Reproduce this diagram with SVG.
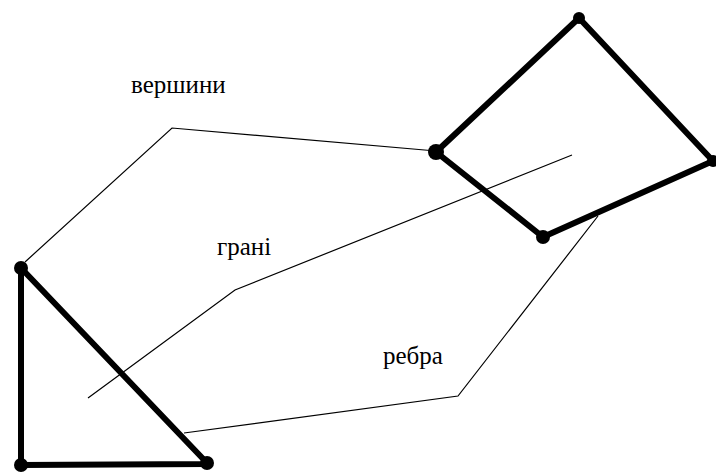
<svg xmlns="http://www.w3.org/2000/svg" width="716" height="472" viewBox="0 0 716 472">
<style>
.edge{fill:none;stroke:#000;stroke-width:6;stroke-linejoin:round}
.lead{fill:none;stroke:#000;stroke-width:1.2}
.lbl{font-family:"Liberation Serif","Times New Roman",serif;font-size:25px;fill:#000}
</style>
<rect width="716" height="472" fill="#fff"/>
<g id="connectors">
<polyline class="lead" points="436,151 172,128 25,262"/>
<polyline class="lead" points="572,155 235,290 88,398"/>
<polyline class="lead" points="598,216 458,396 184,433"/>
</g>
<g id="quad">
<polygon class="edge" points="579,18 713,161 543,237 436,152"/>
<circle cx="579" cy="18" r="6"/>
<circle cx="713" cy="161" r="6"/>
<circle cx="543" cy="237" r="7"/>
<circle cx="436" cy="152" r="8"/>
</g>
<g id="triangle">
<polygon class="edge" points="21,268 21,465 208,464"/>
<circle cx="21" cy="268" r="7"/>
<circle cx="21" cy="465" r="7"/>
<circle cx="207" cy="463" r="7"/>
</g>
<g id="labels">
<text class="lbl" x="131" y="93">вершини</text>
<text class="lbl" x="217" y="255">грані</text>
<text class="lbl" x="383" y="364">ребра</text>
</g>
</svg>
